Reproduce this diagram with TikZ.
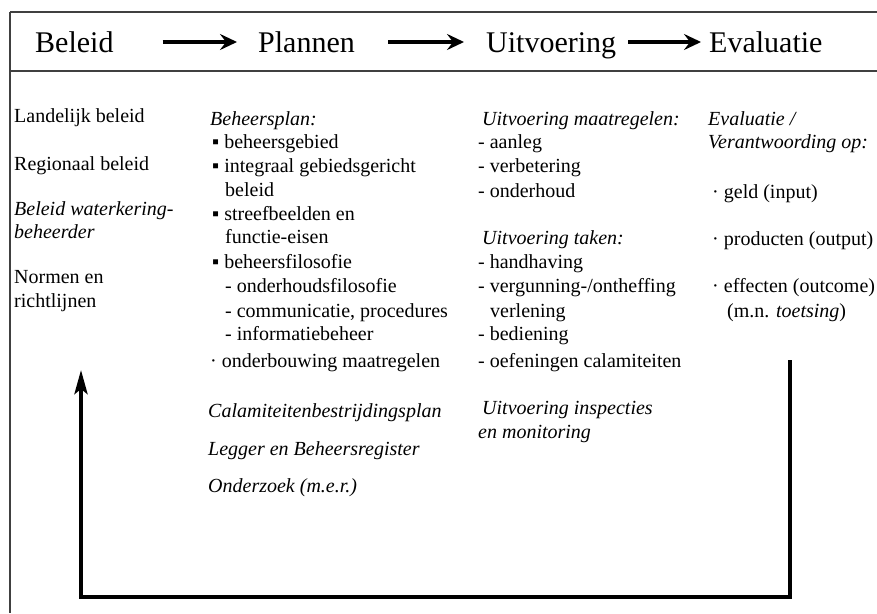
\documentclass[tikz,border=0pt]{standalone}
\usepackage{fontspec}
\setmainfont{Liberation Serif}
\usepackage{tikz}
\usetikzlibrary{arrows.meta}

\tikzset{
    head/.style={anchor=base west, inner sep=0pt, text height=20pt, text depth=0pt,
        font=\fontsize{30}{34}\selectfont},
    txt/.style={anchor=base west, inner sep=0pt, font=\fontsize{20}{24}\selectfont},
    itxt/.style={txt, font=\fontsize{20}{24}\selectfont\itshape},
    steparrow/.style={line width=3.4pt, -{Stealth[length=17pt, width=16pt, inset=6pt]}},
    feedback/.style={line width=4pt, -{Stealth[length=24pt, width=13pt, inset=5pt]}},
    frameline/.style={line width=1.6pt, black!75}
}

\begin{document}
\begin{tikzpicture}[x=1pt, y=-1pt]
    \useasboundingbox (0,0) rectangle (877,613);

    % Frame
    \draw[frameline] (10,12) -- (877,12);
    \draw[frameline] (10,71) -- (877,71);
    \draw[frameline] (10,12) -- (10,613);

    % Header
    \node[head] (beleid) at (35,52) {Beleid};
    \node[head] (plannen) at (258,52) {Plannen};
    \node[head] (uitvoering) at (486,52) {Uitvoering};
    \node[head] (evaluatie) at (709,52) {Evaluatie};

    \draw[steparrow, shorten <=49pt, shorten >=21pt] (beleid.east) -- (plannen.west);
    \draw[steparrow, shorten <=33pt, shorten >=22pt] (plannen.east) -- (uitvoering.west);
    \draw[steparrow, shorten <=12pt, shorten >=8pt] (uitvoering.east) -- (evaluatie.west);

    % Beleid
    \node[txt] (landelijk) at (14,122) {Landelijk beleid};
    \node[txt] (regionaal) at (14,170) {Regionaal beleid};
    \node[itxt] (waterkering) at (14,215) {Beleid waterkering-};
    \node[itxt] (beheerder) at (14,238) {beheerder};
    \node[txt] (normen) at (14,283) {Normen en};
    \node[txt] (richtlijnen) at (14,307) {richtlijnen};

    % Plannen
    \node[itxt] (beheersplan) at (210,125) {Beheersplan:};
    \node[txt] (gebied) at (212,148) {▪ beheersgebied};
    \node[txt] (integraal) at (212,172) {▪ integraal gebiedsgericht};
    \node[txt] (integraal2) at (225,196) {beleid};
    \node[txt] (streef) at (212,220) {▪ streefbeelden en};
    \node[txt] (streef2) at (225,243) {functie-eisen};
    \node[txt] (filosofie) at (212,268) {▪ beheersfilosofie};
    \node[txt] (onderhoudsfil) at (225,292) {- onderhoudsfilosofie};
    \node[txt] (communicatie) at (225,317) {- communicatie, procedures};
    \node[txt] (informatie) at (225,340) {- informatiebeheer};
    \node[txt] (onderbouwing) at (210,367) {· onderbouwing maatregelen};
    \node[itxt] (calamiteiten) at (208,417) {Calamiteitenbestrijdingsplan};
    \node[itxt] (legger) at (208,455) {Legger en Beheersregister};
    \node[itxt] (onderzoek) at (208,492) {Onderzoek (m.e.r.)};

    % Uitvoering
    \node[itxt] (maatregelen) at (482,125) {Uitvoering maatregelen:};
    \node[txt] (aanleg) at (478,148) {- aanleg};
    \node[txt] (verbetering) at (478,172) {- verbetering};
    \node[txt] (onderhoud) at (478,197) {- onderhoud};
    \node[itxt] (taken) at (482,244) {Uitvoering taken:};
    \node[txt] (handhaving) at (478,268) {- handhaving};
    \node[txt] (vergunning) at (478,292) {- vergunning-/ontheffing};
    \node[txt] (verlening) at (490,317) {verlening};
    \node[txt] (bediening) at (478,340) {- bediening};
    \node[txt] (oefeningen) at (478,367) {- oefeningen calamiteiten};
    \node[itxt] (inspecties) at (482,414) {Uitvoering inspecties};
    \node[itxt] (monitoring) at (478,438) {en monitoring};

    % Evaluatie
    \node[itxt] (evalslash) at (708,125) {Evaluatie /};
    \node[itxt] (verantw) at (708,148) {Verantwoording op:};
    \node[txt] (geld) at (712,198) {· geld (input)};
    \node[txt] (producten) at (712,245) {· producten (output)};
    \node[txt] (effecten) at (712,292) {· effecten (outcome)};
    \node[txt] (toetsing) at (727,317) {(m.n. \textit{toetsing})};

    % Feedback loop
    \coordinate (fbtop) at (790,360);
    \coordinate (fbend) at (81,370);
    \draw[feedback] (fbtop) -- ++(0,237) -| (fbend);
\end{tikzpicture}
\end{document}
